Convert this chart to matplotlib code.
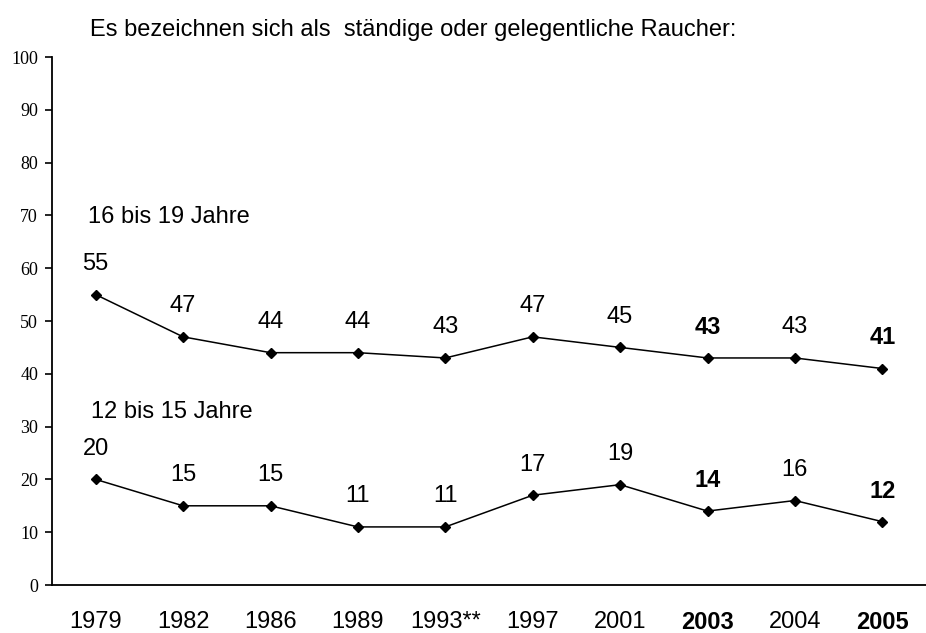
import matplotlib.pyplot as plt

# data
years = ['1979', '1982', '1986', '1989', '1993**', '1997', '2001', '2003', '2004', '2005']
age_16_19 = [55, 47, 44, 44, 43, 47, 45, 43, 43, 41]
age_12_15 = [20, 15, 15, 11, 11, 17, 19, 14, 16, 12]
bold_years = ['2003', '2005']

sans = ['Liberation Sans', 'DejaVu Sans']
serif = ['Liberation Serif', 'DejaVu Serif']

fig = plt.figure(figsize=(9.26, 6.33), dpi=100)
ax = fig.add_axes([52 / 926, 1 - 585 / 633, 1 - 52 / 926, (585 - 57) / 633])

x = list(range(len(years)))
for series in (age_16_19, age_12_15):
    ax.plot(x, series, color='black', lw=1.1, marker='D', ms=5.2, mfc='black', mec='black')
    for xi, val, yr in zip(x, series, years):
        ax.annotate(str(val), (xi, val), xytext=(0, 22), textcoords='offset points',
                    ha='center', va='center', fontsize=17, family=sans,
                    fontweight='bold' if yr in bold_years else 'normal')

ax.set_xlim(-0.5, 9.5)
ax.set_ylim(0, 100)
ax.set_yticks(range(0, 101, 10))
ax.set_xticks(x)
ax.set_xticklabels(years)
for lab in ax.get_xticklabels():
    lab.set_family(sans)
    lab.set_fontsize(17)
    if lab.get_text() in bold_years:
        lab.set_fontweight('bold')
for lab in ax.get_yticklabels():
    lab.set_family(serif)
    lab.set_fontsize(13)

ax.tick_params(axis='x', length=0, pad=19)
ax.tick_params(axis='y', length=5, width=1.2, pad=5, direction='out')
for side in ('top', 'right'):
    ax.spines[side].set_visible(False)
for side in ('left', 'bottom'):
    ax.spines[side].set_linewidth(1.3)

ax.text(-0.09, 69.7, '16 bis 19 Jahre', fontsize=17, family=sans, va='center', ha='left')
ax.text(-0.05, 32.8, '12 bis 15 Jahre', fontsize=17, family=sans, va='center', ha='left')

fig.text(90 / 926, 1 - 30 / 633, 'Es bezeichnen sich als  ständige oder gelegentliche Raucher:',
         fontsize=17, family=sans, va='center', ha='left')

fig.savefig('out.png', dpi=100)
